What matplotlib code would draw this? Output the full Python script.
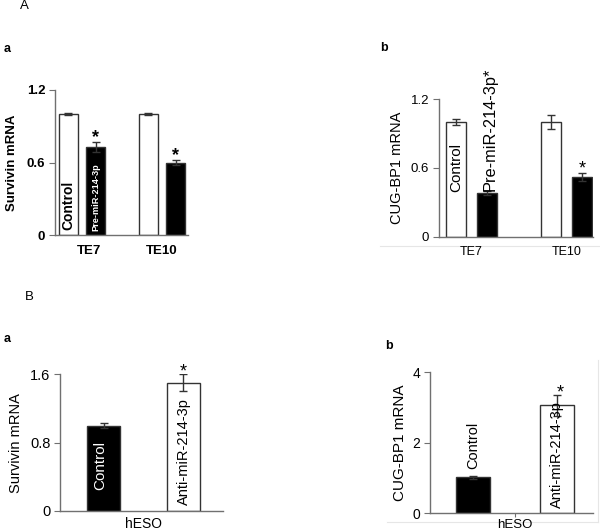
import matplotlib
matplotlib.use("Agg")
import matplotlib.pyplot as plt
from matplotlib.lines import Line2D
import numpy as np

plt.rcParams['font.family'] = ['Liberation Sans', 'DejaVu Sans']

# ---- data ----
groups_A = ["TE7", "TE10"]
surv_ctrl = [1.0, 1.0]
surv_ctrl_err = [0.01, 0.01]
surv_pre = [0.73, 0.60]
surv_pre_err = [0.04, 0.02]

cug_ctrl = [1.0, 1.0]
cug_ctrl_err = [0.03, 0.06]
cug_pre = [0.38, 0.52]
cug_pre_err = [0.02, 0.035]

groups_B = ["hESO"]
bsurv_vals = [1.0, 1.5]
bsurv_err = [0.03, 0.1]
bcug_vals = [1.02, 3.07]
bcug_err = [0.04, 0.3]

yt_Aa = [0, 0.6, 1.2]
yt_Ab = [0, 0.6, 1.2]
yt_Ba = [0, 0.8, 1.6]
yt_Bb = [0, 2, 4]

W, H = 600, 532
fig = plt.figure(figsize=(W / 100, H / 100), dpi=100)


def ax_px(left, right, bottom, top):
    return fig.add_axes([left / W, (H - bottom) / H, (right - left) / W, (bottom - top) / H])


SP = '#707070'


def style(ax, yt, ylim, bold, tsize, xlim):
    ax.set_xlim(*xlim)
    ax.set_ylim(*ylim)
    for s in ['top', 'right']:
        ax.spines[s].set_visible(False)
    for s in ['left', 'bottom']:
        ax.spines[s].set_color(SP)
        ax.spines[s].set_linewidth(1.0)
    ax.set_yticks(yt)
    ax.set_yticklabels([('%g' % v) for v in yt], fontsize=tsize,
                       fontweight='bold' if bold else 'normal')
    ax.tick_params(axis='y', direction='out', length=4, color=SP, pad=3)


def star(ax, xv, yv, dy, dx=0, bold=False):
    ax.annotate("*", (xv, yv), xytext=(dx, dy), textcoords='offset points',
                ha='center', va='bottom', fontsize=13,
                fontweight='bold' if bold else 'normal')


ekw = dict(ecolor='#333333', elinewidth=1.0, capsize=3, capthick=1.0)

# ---------- Aa ----------
ax = ax_px(55, 188, 235, 90)
x = np.arange(len(groups_A))
off, w = 0.169, 0.2375
ax.bar(x - off, surv_ctrl, w, color='white', edgecolor='#333333', lw=1.0,
       yerr=surv_ctrl_err, error_kw=ekw)
ax.bar(x + off, surv_pre, w, color='black', edgecolor='#333333', lw=1.0,
       yerr=surv_pre_err, error_kw=ekw)
style(ax, yt_Aa, (0, 1.2), True, 9.5, (-0.3375, 1.325))
ax.set_xticks(x + np.array([0.09, 0.0]))
ax.set_xticklabels(groups_A, fontsize=9.5, fontweight='bold')
ax.tick_params(axis='x', length=0, pad=7)
ax.set_ylabel("Survivin mRNA", fontsize=9.5, fontweight='bold', labelpad=6)
ax.text(x[0] - off, 0.04, "Control", rotation=90, ha='center', va='bottom',
        fontsize=10, fontweight='bold')
ax.text(x[0] + off, 0.03, "Pre-miR-214-3p", rotation=90, ha='center', va='bottom',
        fontsize=6.6, fontweight='bold', color='white')
for i in range(2):
    star(ax, x[i] + off, surv_pre[i] + surv_pre_err[i], -3, bold=True)

# ---------- Ab ----------
ax = ax_px(439, 593, 236.7, 99)
off, w = 0.165, 0.216
ax.bar(x - off, cug_ctrl, w, color='white', edgecolor='#333333', lw=1.0,
       yerr=cug_ctrl_err, error_kw=ekw)
ax.bar(x + off, cug_pre, w, color='black', edgecolor='#333333', lw=1.0,
       yerr=cug_pre_err, error_kw=ekw)
style(ax, yt_Ab, (0, 1.2), False, 9.5, (-0.342, 1.279))
ax.set_xticks(x)
ax.set_xticklabels(groups_A, fontsize=9)
ax.tick_params(axis='x', length=0, pad=7)
ax.set_ylabel("CUG-BP1 mRNA", fontsize=10.5, labelpad=5)
ax.text(x[0] - off, 0.6, "Control", rotation=90, ha='center', va='center',
        fontsize=11)
ax.text(x[0] + off + 0.035, cug_pre[0] + cug_pre_err[0], "Pre-miR-214-3p*",
        rotation=90, ha='center', va='bottom', fontsize=11.8)
star(ax, x[1] + off, cug_pre[1] + cug_pre_err[1], -3.5)

# ---------- Ba ----------
ax = ax_px(60, 223, 511, 374.3)
xb = np.arange(2)
ax.bar(xb, bsurv_vals, 0.4125, color=['black', 'white'], edgecolor='#333333',
       lw=1.0, yerr=bsurv_err, error_kw=ekw)
style(ax, yt_Ba, (0, 1.6), False, 10.5, (-0.544, 1.494))
ax.set_xticks([0.5])
ax.set_xticklabels(groups_B, fontsize=10)
ax.tick_params(axis='x', length=0, pad=4)
ax.set_ylabel("Survivin mRNA", fontsize=10.5, labelpad=5)
ax.text(xb[0] - 0.04, 0.25, "Control", rotation=90, ha='center', va='bottom',
        fontsize=11, color='white')
ax.text(xb[1], 0.07, "Anti-miR-214-3p", rotation=90, ha='center', va='bottom',
        fontsize=10.5)
star(ax, xb[1], bsurv_vals[1] + bsurv_err[1], -4.5)

# ---------- Bb ----------
ax = ax_px(430, 593, 513.3, 372.3)
ax.bar(xb, bcug_vals, 0.41, color=['black', 'white'], edgecolor='#333333',
       lw=1.0, yerr=bcug_err, error_kw=ekw)
style(ax, yt_Bb, (0, 4), False, 10, (-0.508, 1.428))
ax.set_xticks([0.5])
ax.set_xticklabels(groups_B, fontsize=9.5)
ax.tick_params(axis='x', length=3, color=SP, pad=1)
ax.set_ylabel("CUG-BP1 mRNA", fontsize=11, labelpad=4)
ax.text(xb[0], bcug_vals[0] + bcug_err[0] + 0.2, "Control", rotation=90,
        ha='center', va='bottom', fontsize=10.5)
ax.text(xb[1], 0.15, "Anti-miR-214-3p", rotation=90, ha='center', va='bottom',
        fontsize=10.5)
star(ax, xb[1], bcug_vals[1] + bcug_err[1], -5, dx=2.5)

# faint plot-area frames
def fl(x0, y0, x1, y1):
    fig.add_artist(Line2D([x0 / W, x1 / W], [(H - y0) / H, (H - y1) / H],
                          color='#e6e6e6', lw=0.8, zorder=0))

fl(380, 245.5, 600, 245.5)
fl(387, 521.7, 598, 521.7)
fl(598, 360, 598, 521.7)

# panel letters
fig.text(20 / W, 1 - 6 / H, "A", fontsize=9.5, va='center', ha='left')
fig.text(4 / W, 1 - 48.5 / H, "a", fontsize=9, fontweight='bold', va='center', ha='left')
fig.text(380 / W, 1 - 48 / H, "b", fontsize=9, fontweight='bold', va='center', ha='left')
fig.text(25 / W, 1 - 297 / H, "B", fontsize=9.5, va='center', ha='left')
fig.text(4 / W, 1 - 338.5 / H, "a", fontsize=9, fontweight='bold', va='center', ha='left')
fig.text(385 / W, 1 - 346 / H, "b", fontsize=9, fontweight='bold', va='center', ha='left')

fig.savefig("out.png", dpi=100)
